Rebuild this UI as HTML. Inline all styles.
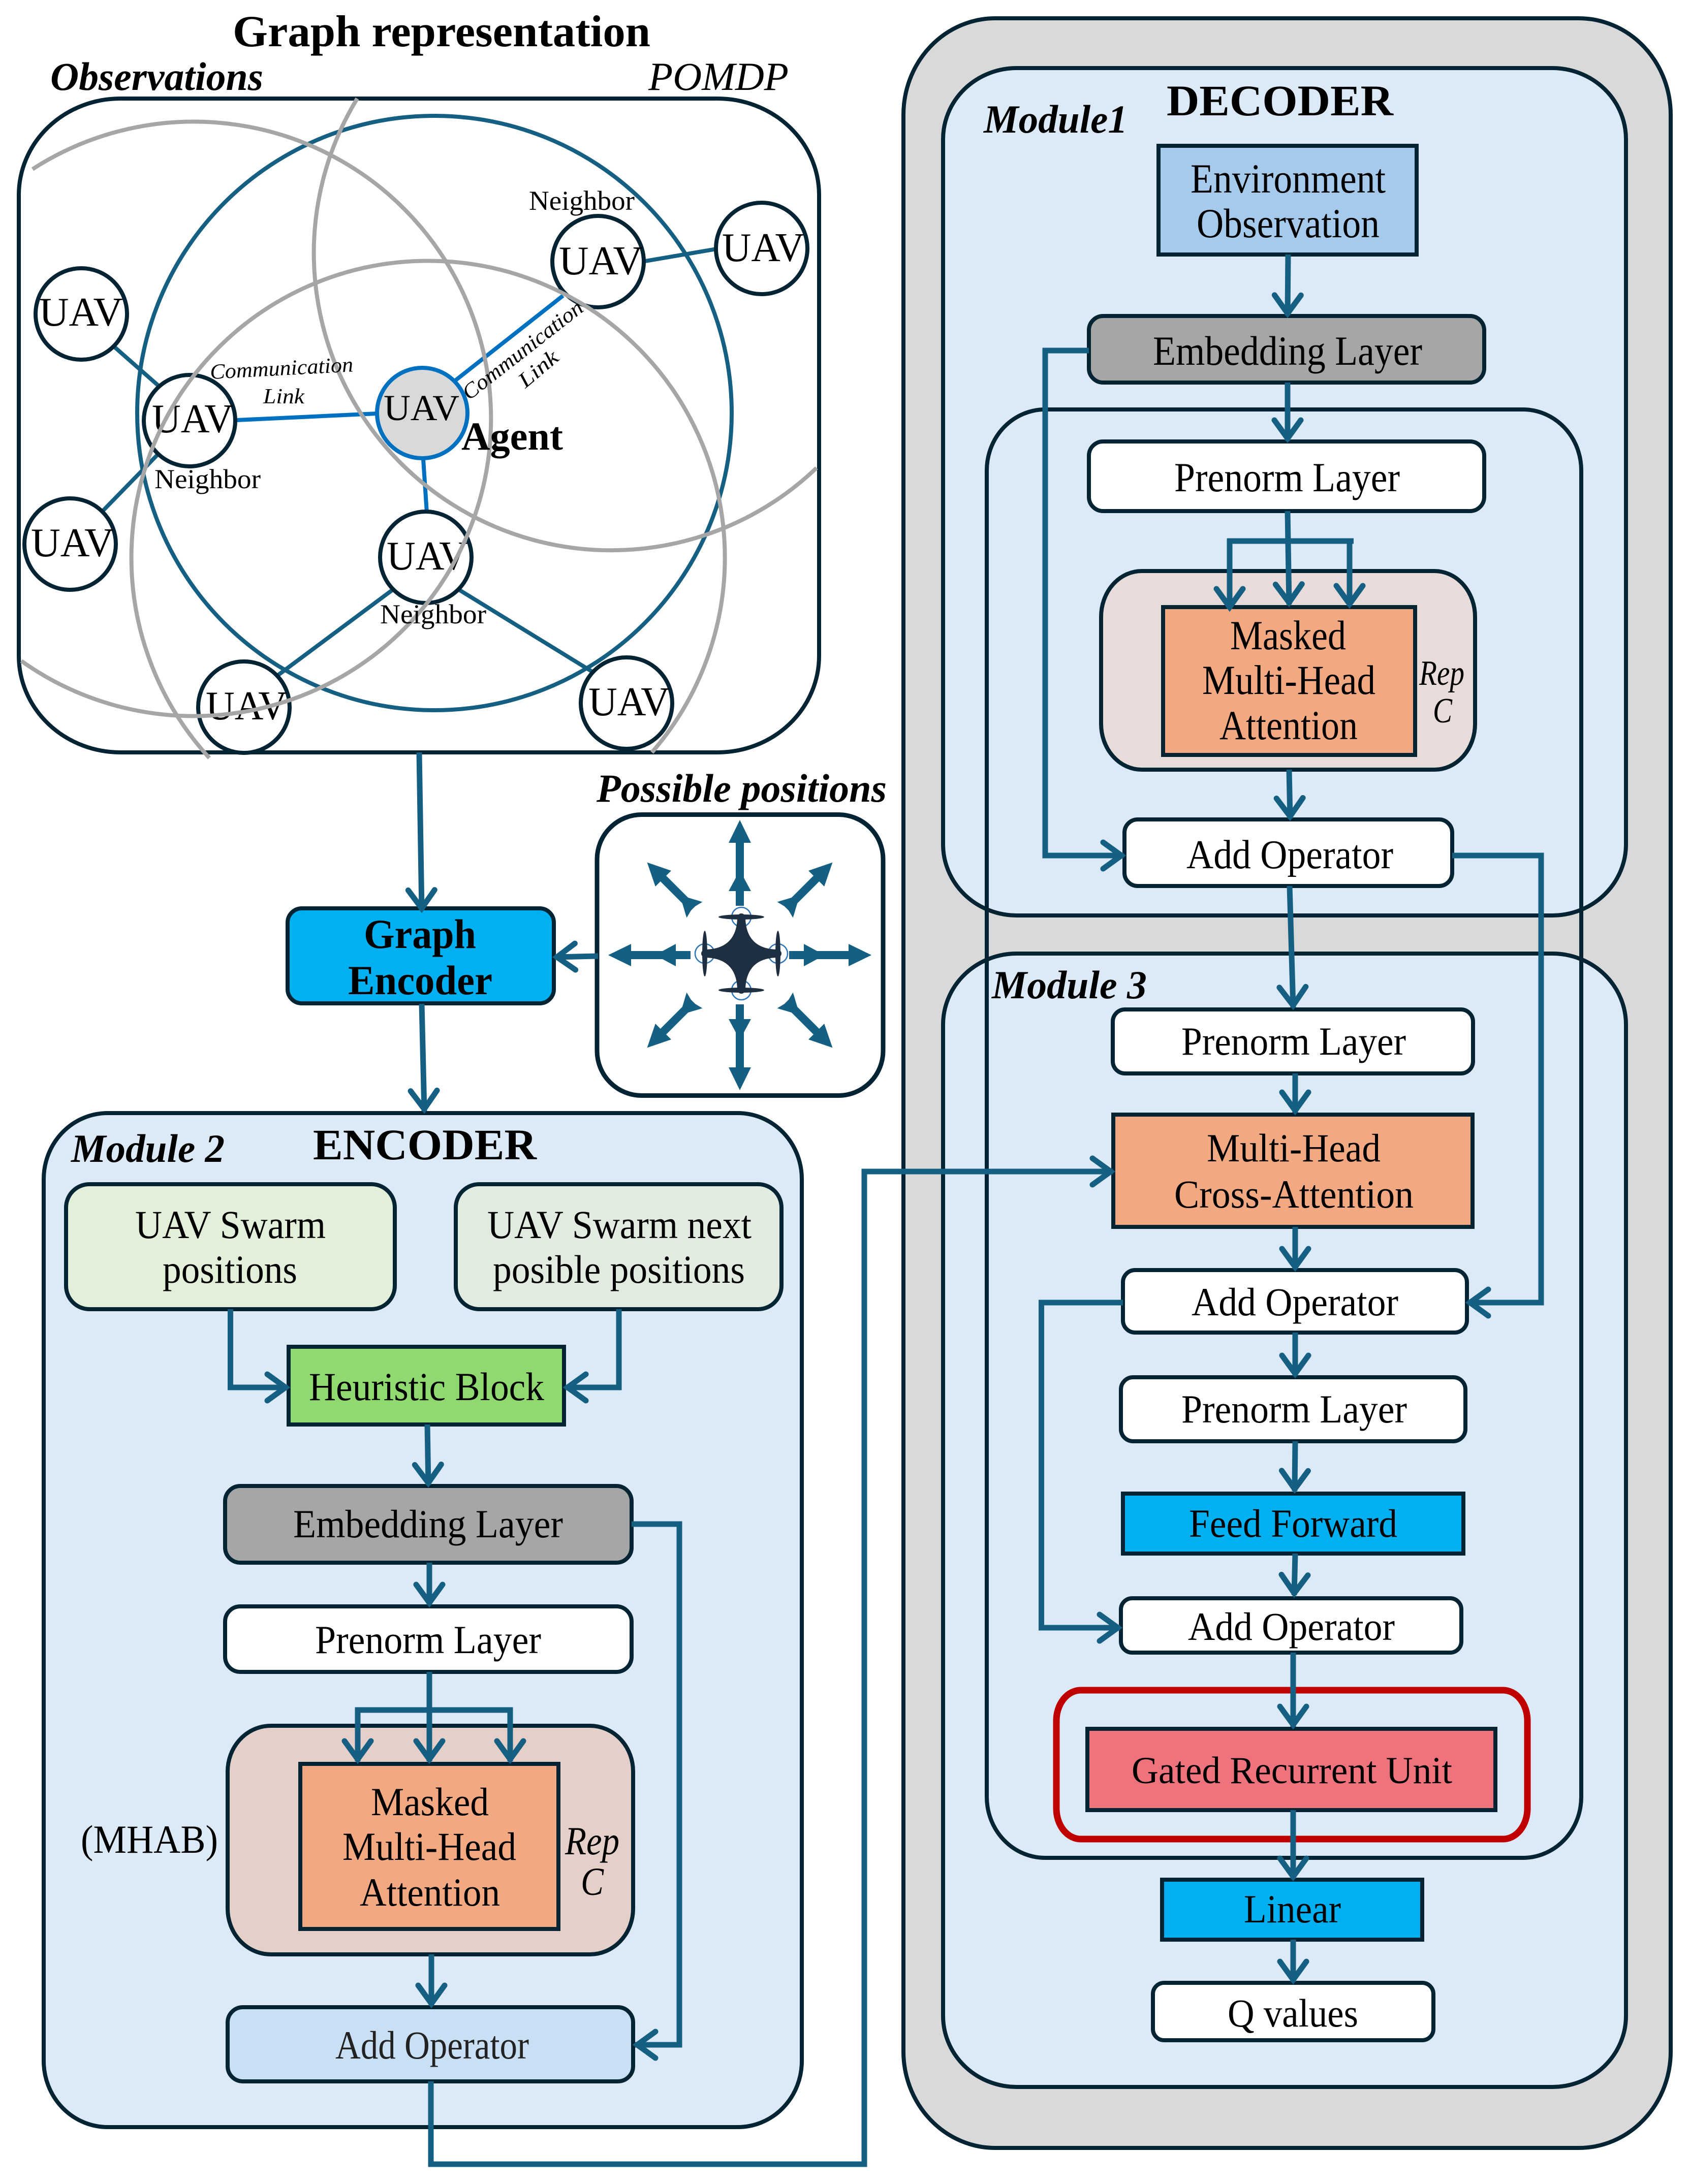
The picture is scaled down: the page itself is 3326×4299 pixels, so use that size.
<!DOCTYPE html>
<html><head><meta charset="utf-8"><style>
html,body{margin:0;padding:0;background:#fff}
svg{display:block}
text{font-family:"Liberation Serif",serif;fill:#000;font-size:78px}
.b{font-weight:bold}.i{font-style:italic}.bi{font-weight:bold;font-style:italic}
.box{stroke:#042434;stroke-width:8}
.c{fill:none;stroke:#156082;stroke-width:11;marker-end:url(#a)}
.n{fill:none;stroke:#156082;stroke-width:11}
.g{fill:none;stroke:#a6a6a6;stroke-width:8}
.l{stroke:#156082;stroke-width:8}
.lb{stroke:#0070c0;stroke-width:8}
.u{fill:#fff;stroke:#042434;stroke-width:8}
</style></head><body>
<svg width="3326" height="4299" viewBox="0 0 3326 4299" xmlns="http://www.w3.org/2000/svg">
<defs>
<marker id="a" markerUnits="userSpaceOnUse" markerWidth="100" markerHeight="80" refX="90" refY="40" orient="auto" overflow="visible"><path d="M50,14 L86,40 L50,66" fill="none" stroke="#156082" stroke-width="11" stroke-linecap="round"/></marker>
<polygon id="da" fill="#156082" points="0,-258 22,-213 8,-213 8,-152 22,-126 6,-130 -6,-130 -22,-126 -8,-152 -8,-213 -22,-213"/>
<polygon id="ua" fill="#156082" points="0,-266 22,-221 8,-221 8,-152 22,-126 8,-126 8,-97 -8,-97 -8,-126 -22,-126 -8,-152 -8,-221 -22,-221"/>
<polygon id="ha" fill="#156082" points="0,-259 22,-214 8,-214 8,-152 22,-126 8,-126 8,-97 -8,-97 -8,-126 -22,-126 -8,-152 -8,-214 -22,-214"/>
</defs>
<rect width="3326" height="4299" fill="#fff"/>

<!-- Graph representation -->
<text class="b" x="458" y="91" style="font-size:88px" textLength="822" lengthAdjust="spacingAndGlyphs">Graph representation</text>
<text class="bi" x="99" y="177" textLength="419" lengthAdjust="spacingAndGlyphs">Observations</text>
<text class="i" x="1276" y="177" textLength="276" lengthAdjust="spacingAndGlyphs">POMDP</text>
<rect x="37" y="194" width="1575" height="1287" rx="200" ry="190" fill="#fff" stroke="#042434" stroke-width="8"/>
<circle cx="855" cy="813" r="585" fill="none" stroke="#156082" stroke-width="8"/>
<line class="l" x1="1264" y1="515" x2="1416" y2="489"/>
<line class="l" x1="223" y1="681" x2="315" y2="762"/>
<line class="l" x1="315" y1="890" x2="199" y2="1009"/>
<line class="l" x1="774" y1="1160" x2="543" y2="1332"/>
<line class="l" x1="902" y1="1160" x2="1175" y2="1328"/>
<line class="lb" x1="896" y1="749" x2="1108" y2="582"/>
<line class="lb" x1="465" y1="827" x2="742" y2="814"/>
<line class="lb" x1="833" y1="904" x2="840" y2="1009"/>
<circle class="u" cx="1177" cy="515" r="90"/>
<circle class="u" cx="1499" cy="489" r="90"/>
<circle class="u" cx="160" cy="618" r="90"/>
<circle class="u" cx="373" cy="828" r="90"/>
<circle cx="831" cy="813" r="89" fill="#d9d9d9" stroke="#0070c0" stroke-width="8"/>
<circle class="u" cx="138" cy="1071" r="90"/>
<circle class="u" cx="838" cy="1097" r="90"/>
<circle class="u" cx="480" cy="1392" r="90"/>
<circle class="u" cx="1233" cy="1384" r="90"/>
<text x="1100" y="540" style="font-size:80px" textLength="165" lengthAdjust="spacingAndGlyphs">UAV</text>
<text x="1421" y="514" style="font-size:80px" textLength="162" lengthAdjust="spacingAndGlyphs">UAV</text>
<text x="77" y="641" style="font-size:80px" textLength="165" lengthAdjust="spacingAndGlyphs">UAV</text>
<text x="299" y="851" style="font-size:80px" textLength="160" lengthAdjust="spacingAndGlyphs">UAV</text>
<text x="755" y="827" style="font-size:72px" textLength="149" lengthAdjust="spacingAndGlyphs">UAV</text>
<text x="61" y="1095" style="font-size:80px" textLength="163" lengthAdjust="spacingAndGlyphs">UAV</text>
<text x="761" y="1121" style="font-size:80px" textLength="160" lengthAdjust="spacingAndGlyphs">UAV</text>
<text x="405" y="1416" style="font-size:80px" textLength="160" lengthAdjust="spacingAndGlyphs">UAV</text>
<text x="1158" y="1408" style="font-size:80px" textLength="160" lengthAdjust="spacingAndGlyphs">UAV</text>
<path class="g" d="M64,333 A585,585 0 1 1 42,1301"/>
<path class="g" d="M703,194 A585,585 0 0 0 1607,921"/>
<path class="g" d="M412,1492 A584,584 0 1 1 1283,1481"/>
<text x="1041" y="413" style="font-size:54px" textLength="208" lengthAdjust="spacingAndGlyphs">Neighbor</text>
<text x="304" y="961" style="font-size:54px" textLength="209" lengthAdjust="spacingAndGlyphs">Neighbor</text>
<text x="748" y="1227" style="font-size:54px" textLength="209" lengthAdjust="spacingAndGlyphs">Neighbor</text>
<text class="b" x="908" y="885" textLength="200" lengthAdjust="spacingAndGlyphs">Agent</text>
<text class="i" transform="translate(414,746) rotate(-3)" style="font-size:42px" textLength="282" lengthAdjust="spacingAndGlyphs">Communication</text>
<text class="i" x="518" y="794" style="font-size:42px" textLength="81" lengthAdjust="spacingAndGlyphs">Link</text>
<text class="i" transform="translate(923,789) rotate(-38)" style="font-size:42px" textLength="289" lengthAdjust="spacingAndGlyphs">Communication</text>
<text class="i" transform="translate(1034,765) rotate(-40)" style="font-size:42px" textLength="89" lengthAdjust="spacingAndGlyphs">Link</text>

<!-- Possible positions -->
<text class="bi" x="1174" y="1578" textLength="571" lengthAdjust="spacingAndGlyphs">Possible positions</text>
<rect x="1175" y="1603.5" width="563" height="553" rx="88" ry="88" fill="#fff" stroke="#042434" stroke-width="9"/>
<g transform="translate(1456,1880)">
<use href="#ua"/>
<use href="#ha" transform="rotate(90)"/>
<use href="#ua" transform="rotate(180)"/>
<use href="#ha" transform="rotate(270)"/>
<use href="#da" transform="rotate(45)"/>
<use href="#da" transform="rotate(135)"/>
<use href="#da" transform="rotate(225)"/>
<use href="#da" transform="rotate(315)"/>
</g>
<g transform="translate(1459,1877)">
<g fill="none" stroke="#2e75b6" stroke-width="2.5">
<circle cx="0" cy="-72" r="19"/><circle cx="0" cy="72" r="19"/><circle cx="-72" cy="0" r="19"/><circle cx="72" cy="0" r="19"/>
</g>
<g fill="#1f2f42">
<path d="M-8,-70 L8,-70 C9,-30 30,-9 70,-8 L70,8 C30,9 9,30 8,70 L-8,70 C-9,30 -30,9 -70,8 L-70,-8 C-30,-9 -9,-30 -8,-70Z"/>
<ellipse cx="0" cy="-72" rx="45" ry="5"/><ellipse cx="0" cy="72" rx="45" ry="5"/>
<ellipse cx="-72" cy="0" rx="5" ry="45"/><ellipse cx="72" cy="0" rx="5" ry="45"/>
<circle cx="0" cy="-72" r="7"/><circle cx="0" cy="72" r="7"/><circle cx="-72" cy="0" r="7"/><circle cx="72" cy="0" r="7"/>
</g>
</g>

<!-- Graph encoder -->
<rect class="box" x="566" y="1788" width="524" height="187" rx="28" fill="#00b0f0"/>
<text class="b" x="716" y="1866" style="font-size:82px" textLength="221" lengthAdjust="spacingAndGlyphs">Graph</text>
<text class="b" x="685" y="1957" style="font-size:82px" textLength="284" lengthAdjust="spacingAndGlyphs">Encoder</text>

<!-- Module 2 -->
<rect class="box" x="86" y="2191" width="1492" height="1996" rx="126" ry="130" fill="#dce9f6"/>
<text class="b" x="616" y="2282" style="font-size:86px" textLength="440" lengthAdjust="spacingAndGlyphs">ENCODER</text>
<text class="bi" x="140" y="2287" textLength="302" lengthAdjust="spacingAndGlyphs">Module 2</text>
<rect class="box" x="130" y="2331" width="647" height="246" rx="46" fill="#e2efd9"/>
<text x="266" y="2437" textLength="375" lengthAdjust="spacingAndGlyphs">UAV Swarm</text>
<text x="320" y="2525" textLength="265" lengthAdjust="spacingAndGlyphs">positions</text>
<rect class="box" x="897" y="2331" width="641" height="246" rx="46" fill="#e2ebe0"/>
<text x="959" y="2437" textLength="520" lengthAdjust="spacingAndGlyphs">UAV Swarm next</text>
<text x="970" y="2525" textLength="496" lengthAdjust="spacingAndGlyphs">posible positions</text>
<rect class="box" x="568" y="2651" width="542" height="153" fill="#8fd970"/>
<text x="608" y="2756" textLength="463" lengthAdjust="spacingAndGlyphs">Heuristic Block</text>
<rect class="box" x="443" y="2925" width="800" height="151" rx="30" fill="#a6a6a6"/>
<text x="577" y="3026" textLength="531" lengthAdjust="spacingAndGlyphs">Embedding Layer</text>
<rect class="box" x="443" y="3162" width="800" height="129" rx="30" fill="#fff"/>
<text x="620" y="3254" textLength="445" lengthAdjust="spacingAndGlyphs">Prenorm Layer</text>
<rect class="box" x="448" y="3397" width="798" height="450" rx="85" ry="90" fill="#e5d0c9"/>
<rect class="box" x="591" y="3472" width="508" height="325" fill="#f2a981"/>
<text x="730" y="3573" textLength="232" lengthAdjust="spacingAndGlyphs">Masked</text>
<text x="674" y="3661" textLength="342" lengthAdjust="spacingAndGlyphs">Multi-Head</text>
<text x="708" y="3751" textLength="276" lengthAdjust="spacingAndGlyphs">Attention</text>
<text x="159" y="3647" textLength="270" lengthAdjust="spacingAndGlyphs">(MHAB)</text>
<text class="i" x="1112" y="3650" textLength="107" lengthAdjust="spacingAndGlyphs">Rep</text>
<text class="i" x="1143" y="3730" textLength="45" lengthAdjust="spacingAndGlyphs">C</text>
<rect class="box" x="448" y="3951" width="798" height="146" rx="30" fill="#c9dff4"/>
<text x="660" y="4052" style="fill:#222" textLength="381" lengthAdjust="spacingAndGlyphs">Add Operator</text>

<!-- Decoder -->
<rect class="box" x="1778" y="36" width="1510" height="4192" rx="181" ry="190" fill="#d9d9d9"/>
<rect class="box" x="1856" y="134" width="1344" height="1668" rx="145" ry="140" fill="#dce9f6"/>
<rect class="box" x="1856" y="1877" width="1344" height="2231" rx="145" ry="140" fill="#dce9f6"/>
<rect class="box" x="1942" y="806" width="1170" height="2851" rx="115" ry="120" fill="none"/>
<text class="b" x="2296" y="227" style="font-size:86px" textLength="446" lengthAdjust="spacingAndGlyphs">DECODER</text>
<text class="bi" x="1936" y="261" textLength="283" lengthAdjust="spacingAndGlyphs">Module1</text>
<text class="bi" x="1952" y="1965" textLength="305" lengthAdjust="spacingAndGlyphs">Module 3</text>
<rect class="box" x="2280" y="287" width="508" height="214" fill="#a6caec"/>
<text x="2343" y="379" style="font-size:82px" textLength="384" lengthAdjust="spacingAndGlyphs">Environment</text>
<text x="2355" y="467" style="font-size:82px" textLength="360" lengthAdjust="spacingAndGlyphs">Observation</text>
<rect class="box" x="2143" y="622" width="778" height="131" rx="28" fill="#a6a6a6"/>
<text x="2269" y="718" style="font-size:82px" textLength="530" lengthAdjust="spacingAndGlyphs">Embedding Layer</text>
<rect class="box" x="2143" y="869" width="778" height="137" rx="28" fill="#fff"/>
<text x="2311" y="967" style="font-size:82px" textLength="444" lengthAdjust="spacingAndGlyphs">Prenorm Layer</text>
<rect class="box" x="2167" y="1124" width="736" height="391" rx="80" ry="90" fill="#e7dcd9"/>
<rect class="box" x="2289" y="1195" width="496" height="291" fill="#f2a981"/>
<text x="2421" y="1278" style="font-size:82px" textLength="228" lengthAdjust="spacingAndGlyphs">Masked</text>
<text x="2366" y="1366" style="font-size:82px" textLength="341" lengthAdjust="spacingAndGlyphs">Multi-Head</text>
<text x="2400" y="1455" style="font-size:82px" textLength="272" lengthAdjust="spacingAndGlyphs">Attention</text>
<text class="i" x="2793" y="1348" style="font-size:70px" textLength="89" lengthAdjust="spacingAndGlyphs">Rep</text>
<text class="i" x="2820" y="1422" style="font-size:70px" textLength="38" lengthAdjust="spacingAndGlyphs">C</text>
<rect class="box" x="2213" y="1613" width="645" height="131" rx="26" fill="#fff"/>
<text x="2335" y="1709" style="font-size:80px" textLength="407" lengthAdjust="spacingAndGlyphs">Add Operator</text>
<rect class="box" x="2190" y="1987" width="709" height="126" rx="24" fill="#fff"/>
<text x="2325" y="2076" textLength="442" lengthAdjust="spacingAndGlyphs">Prenorm Layer</text>
<rect class="box" x="2191" y="2194" width="707" height="221" fill="#f2a981"/>
<text x="2375" y="2286" textLength="342" lengthAdjust="spacingAndGlyphs">Multi-Head</text>
<text x="2311" y="2377" textLength="471" lengthAdjust="spacingAndGlyphs">Cross-Attention</text>
<rect class="box" x="2210" y="2500" width="677" height="123" rx="24" fill="#fff"/>
<text x="2345" y="2589" textLength="407" lengthAdjust="spacingAndGlyphs">Add Operator</text>
<rect class="box" x="2206" y="2711" width="678" height="126" rx="24" fill="#fff"/>
<text x="2325" y="2800" textLength="444" lengthAdjust="spacingAndGlyphs">Prenorm Layer</text>
<rect class="box" x="2210" y="2940" width="670" height="118" fill="#00b0f0"/>
<text x="2340" y="3025" textLength="410" lengthAdjust="spacingAndGlyphs">Feed Forward</text>
<rect class="box" x="2206" y="3146" width="670" height="107" rx="22" fill="#fff"/>
<text x="2338" y="3228" textLength="407" lengthAdjust="spacingAndGlyphs">Add Operator</text>
<rect class="box" x="2140" y="3403" width="803" height="160" fill="#ee737c"/>
<text x="2227" y="3510" style="font-size:75px" textLength="631" lengthAdjust="spacingAndGlyphs">Gated Recurrent Unit</text>
<rect x="2079" y="3327" width="927" height="293" rx="48" ry="60" fill="none" stroke="#c00000" stroke-width="13"/>
<rect class="box" x="2287" y="3700" width="512" height="118" fill="#00b0f0"/>
<text x="2448" y="3784" textLength="191" lengthAdjust="spacingAndGlyphs">Linear</text>
<rect class="box" x="2269" y="3903" width="552" height="113" rx="22" fill="#fff"/>
<text x="2416" y="3989" textLength="257" lengthAdjust="spacingAndGlyphs">Q values</text>

<!-- connectors: left -->
<path class="c" d="M825,1481 L830,1792"/>
<path class="c" d="M1177,1882 L1092,1884"/>
<path class="c" d="M830,1976 L835,2187"/>
<path class="c" d="M453.500,2577 V2731 H566"/>
<path class="c" d="M1218,2577 V2731 H1113"/>
<path class="c" d="M841,2804 L843,2923"/>
<path class="c" d="M845,3076 V3159"/>
<path class="c" d="M845,3291 V3467"/>
<path class="n" d="M704,3380 V3366 H1004 V3380"/>
<path class="c" d="M704,3366 V3467"/>
<path class="c" d="M1004,3366 V3467"/>
<path class="c" d="M849,3847 V3948"/>
<path class="c" d="M1243,3000 H1337 V4025 H1250"/>
<path class="c" d="M848,4097 V4260 H1701 V2306 H2190"/>
<!-- connectors: right -->
<path class="c" d="M2535,501 L2534,621"/>
<path class="c" d="M2534,753 V867"/>
<path class="c" d="M2534,1006 L2537,1190"/>
<path class="n" d="M2415,1065 H2664"/>
<path class="c" d="M2420,1060 V1199"/>
<path class="c" d="M2656,1065 V1193"/>
<path class="c" d="M2537,1515 L2539,1611"/>
<path class="c" d="M2143,690 H2057 V1684 H2211"/>
<path class="c" d="M2538,1744 L2545,1983"/>
<path class="c" d="M2858,1684 H3033 V2564 H2889"/>
<path class="c" d="M2549,2113 V2190"/>
<path class="c" d="M2549,2415 V2498"/>
<path class="c" d="M2549,2623 V2708"/>
<path class="c" d="M2549,2837 L2548,2935"/>
<path class="c" d="M2549,3058 L2547,3140"/>
<path class="c" d="M2545,3253 V3399"/>
<path class="c" d="M2545,3563 V3698"/>
<path class="c" d="M2545,3818 V3901"/>
<path class="c" d="M2210,2564 H2049.500 V3204 H2204"/>
</svg>
</body></html>
